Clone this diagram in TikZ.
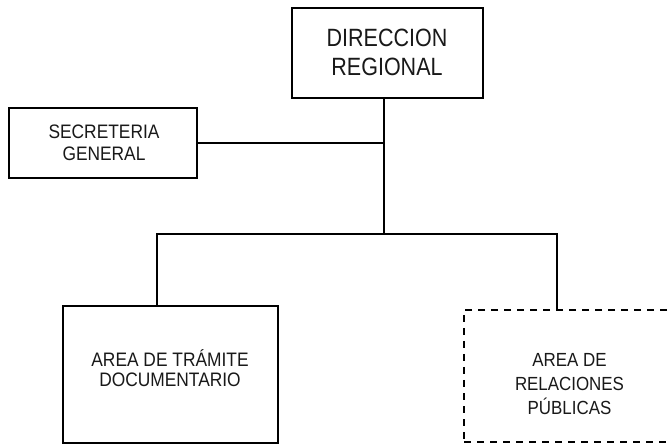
\documentclass[tikz,border=0pt]{standalone}
\usepackage{fontspec}
\newfontfamily\narrowsans{Liberation Sans}[FakeStretch=0.89]
\newfontfamily\narrowersans{Liberation Sans}[FakeStretch=0.86]
\begin{document}
\begin{tikzpicture}[x=1bp,y=-1bp,
  box/.style={draw=black,line width=1.3bp,inner sep=0pt},
  dashbox/.style={box,dash pattern=on 7bp off 6bp},
  txt/.style={align=center,text=black!90,inner sep=0pt,font=\narrowsans},
  link/.style={draw=black,line width=1.3bp}]
\useasboundingbox (0,0) rectangle (669,447);
\fill[white] (0,0) rectangle (669,447);
% boxes
\node[box,minimum width=191bp,minimum height=90bp] (dr) at (387.5,53) {};
\node[txt,font=\narrowersans\fontsize{25bp}{29bp}\selectfont] (drt) at (387,52) {DIRECCION\\REGIONAL};
\node[box,minimum width=188bp,minimum height=70bp] (sg) at (103,143) {};
\node[txt,font=\narrowsans\fontsize{19.5bp}{22bp}\selectfont] (sgt) at (104,143) {SECRETERIA\\GENERAL};
\node[box,minimum width=215bp,minimum height=137bp] (at) at (170.5,374.5) {};
\node[txt,font=\narrowsans\fontsize{19.5bp}{20.5bp}\selectfont] (att) at (170,368) {AREA DE TRÁMITE\\DOCUMENTARIO};
\node[dashbox,minimum width=211bp,minimum height=132bp] (rp) at (569.5,376) {};
\node[txt,font=\narrowsans\fontsize{19bp}{24bp}\selectfont] (rpt) at (569.5,384) {AREA DE\\RELACIONES\\PÚBLICAS};
% connectors
\coordinate (j) at (384,234);
\coordinate (lj) at (157,234);
\coordinate (rj) at (557,234);
\draw[link] (j |- dr.south) -- (j);
\draw[link] (sg.east) -- (sg.east -| j);
\draw[link] (lj |- at.north) -- (lj) -- (rj) -- (rj |- rp.north);
\end{tikzpicture}
\end{document}
